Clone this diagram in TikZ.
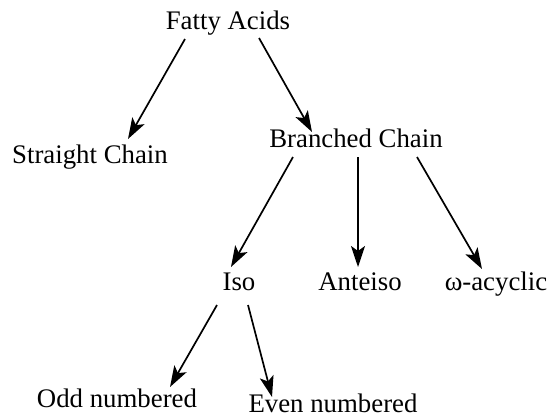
\documentclass[tikz,border=0pt]{standalone}
\usepackage{fontspec}
\setmainfont{Liberation Serif}
\usetikzlibrary{arrows.meta,calc}
\begin{document}
\begin{tikzpicture}[x=1pt,y=-1pt,
  lbl/.style={anchor=base,inner sep=0pt,font=\fontsize{26.8}{30}\selectfont},
  arr/.style={line width=1.7pt,-{Stealth[length=21pt,width=14pt,inset=5pt]}}]
\useasboundingbox (0,0) rectangle (549,418);
\node[lbl] (fa) at (228,29) {Fatty Acids};
\node[lbl] (sc) at (90,163) {Straight Chain};
\node[lbl] (bc) at (356,147) {Branched Chain};
\node[lbl] (iso) at (239,290) {Iso};
\node[lbl] (ant) at (360,290) {Anteiso};
\node[lbl] (om) at (496,290) {ω-acyclic};
\node[lbl] (odd) at (117,407) {Odd numbered};
\node[lbl] (even) at (333,412) {Even numbered};
\draw[arr] ($(fa.base)+(-43,10)$) -- ($(sc.base)+(38,-24)$);
\draw[arr] ($(fa.base)+(31,9)$) -- ($(bc.base)+(-44,-15)$);
\draw[arr] ($(bc.base)+(-63,10)$) -- ($(iso.base)+(-8,-23)$);
\draw[arr] ($(bc.base)+(2,10)$) -- ($(ant.base)+(-2,-23)$);
\draw[arr] ($(bc.base)+(61,10)$) -- ($(om.base)+(-14,-21)$);
\draw[arr] ($(iso.base)+(-22,15)$) -- ($(odd.base)+(53,-20)$);
\draw[arr] ($(iso.base)+(9,15)$) -- ($(even.base)+(-61,-15)$);
\end{tikzpicture}
\end{document}
